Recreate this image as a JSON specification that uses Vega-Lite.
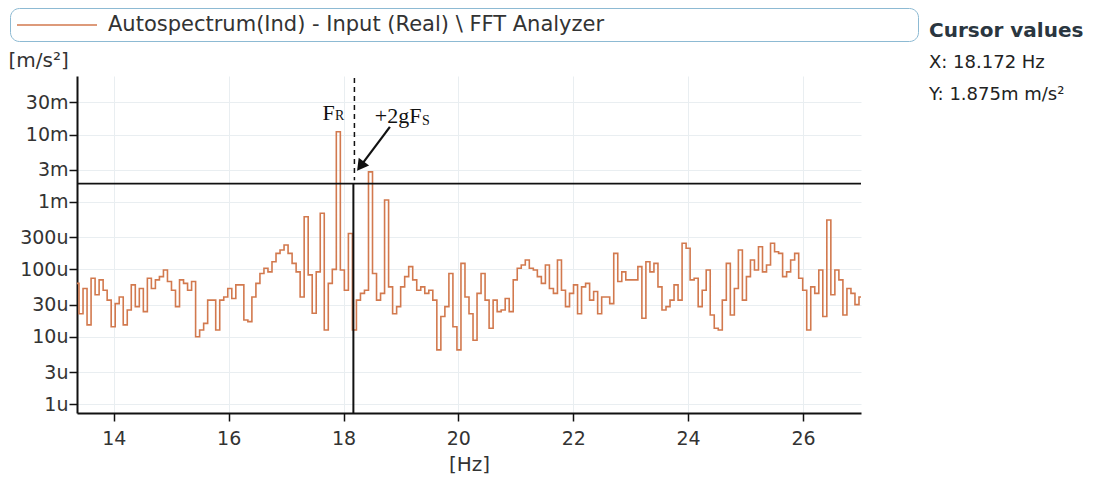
{
  "$schema": "https://vega.github.io/schema/vega-lite/v6.json",
  "width": 784,
  "height": 337,
  "autosize": {"type": "none"},
  "padding": {"left": 77, "top": 76, "right": 241, "bottom": 76},
  "background": "white",
  "config": {
    "view": {"stroke": null},
    "font": "DejaVu Sans",
    "legend": {
      "orient": "none",
      "legendX": -67,
      "legendY": -68,
      "symbolType": "M-1,0H7",
      "symbolSize": 400,
      "symbolStrokeWidth": 1.3,
      "labelFontSize": 21,
      "labelFont": "DejaVu Sans",
      "labelColor": "#333333",
      "labelOffset": 70,
      "labelLimit": 0,
      "padding": 6,
      "strokeColor": "#8dbad3",
      "cornerRadius": 9,
      "fillColor": "white",
      "titleOrient": "right",
      "titlePadding": 308
    }
  },
  "title": {
    "text": "Cursor values",
    "subtitle": ["X: 18.172 Hz", "Y: 1.875m m/s²"],
    "anchor": "start",
    "frame": "group",
    "orient": "top",
    "dx": 852,
    "offset": -96,
    "font": "DejaVu Sans",
    "fontSize": 20,
    "fontWeight": "bold",
    "color": "#2a3640",
    "subtitleFont": "DejaVu Sans",
    "subtitleFontSize": 18,
    "subtitleColor": "#222222",
    "subtitlePadding": 13,
    "subtitleLineHeight": 32
  },
  "datasets": {
    "spectrum": [
      {"hz": 13.36, "amp": 6.2e-5}, {"hz": 13.43, "amp": 2.2e-5}, {"hz": 13.50, "amp": 5.2e-5}, {"hz": 13.57, "amp": 1.5e-5},
      {"hz": 13.64, "amp": 7.4e-5}, {"hz": 13.71, "amp": 4.2e-5}, {"hz": 13.78, "amp": 7.0e-5}, {"hz": 13.85, "amp": 4.9e-5},
      {"hz": 13.92, "amp": 3.5e-5}, {"hz": 13.99, "amp": 1.41e-5}, {"hz": 14.06, "amp": 3.1e-5}, {"hz": 14.13, "amp": 3.9e-5},
      {"hz": 14.20, "amp": 1.5e-5}, {"hz": 14.27, "amp": 2.5e-5}, {"hz": 14.34, "amp": 5.9e-5}, {"hz": 14.41, "amp": 2.8e-5},
      {"hz": 14.48, "amp": 5.2e-5}, {"hz": 14.55, "amp": 2.36e-5}, {"hz": 14.62, "amp": 7.4e-5}, {"hz": 14.69, "amp": 5.2e-5},
      {"hz": 14.76, "amp": 7.0e-5}, {"hz": 14.83, "amp": 7.8e-5}, {"hz": 14.90, "amp": 9.8e-5}, {"hz": 14.97, "amp": 6.6e-5},
      {"hz": 15.04, "amp": 4.9e-5}, {"hz": 15.11, "amp": 2.8e-5}, {"hz": 15.18, "amp": 7.0e-5}, {"hz": 15.25, "amp": 6.2e-5},
      {"hz": 15.32, "amp": 4.9e-5}, {"hz": 15.39, "amp": 6.6e-5}, {"hz": 15.46, "amp": 1.0e-5}, {"hz": 15.53, "amp": 1.26e-5},
      {"hz": 15.60, "amp": 1.58e-5}, {"hz": 15.67, "amp": 3.5e-5}, {"hz": 15.74, "amp": 3.5e-5}, {"hz": 15.81, "amp": 1.26e-5},
      {"hz": 15.88, "amp": 3.5e-5}, {"hz": 15.95, "amp": 3.9e-5}, {"hz": 16.02, "amp": 5.2e-5}, {"hz": 16.09, "amp": 3.7e-5},
      {"hz": 16.16, "amp": 5.9e-5}, {"hz": 16.23, "amp": 5.9e-5}, {"hz": 16.30, "amp": 1.77e-5}, {"hz": 16.37, "amp": 1.68e-5},
      {"hz": 16.44, "amp": 3.9e-5}, {"hz": 16.51, "amp": 6.2e-5}, {"hz": 16.58, "amp": 8.7e-5}, {"hz": 16.65, "amp": 1.04e-4},
      {"hz": 16.72, "amp": 9.2e-5}, {"hz": 16.79, "amp": 1.3e-4}, {"hz": 16.86, "amp": 1.73e-4}, {"hz": 16.93, "amp": 1.94e-4},
      {"hz": 17.00, "amp": 2.3e-4}, {"hz": 17.07, "amp": 1.73e-4}, {"hz": 17.14, "amp": 1.23e-4}, {"hz": 17.21, "amp": 9.2e-5},
      {"hz": 17.28, "amp": 3.9e-5}, {"hz": 17.35, "amp": 6.05e-4}, {"hz": 17.42, "amp": 8.3e-5}, {"hz": 17.49, "amp": 2.23e-5},
      {"hz": 17.56, "amp": 9.2e-5}, {"hz": 17.63, "amp": 6.8e-4}, {"hz": 17.70, "amp": 1.26e-5}, {"hz": 17.77, "amp": 6.2e-5},
      {"hz": 17.84, "amp": 1.0e-4}, {"hz": 17.91, "amp": 1.1e-2}, {"hz": 17.98, "amp": 9.8e-5}, {"hz": 18.05, "amp": 4.9e-5},
      {"hz": 18.12, "amp": 3.4e-4}, {"hz": 18.19, "amp": 1.26e-5}, {"hz": 18.26, "amp": 3.5e-5}, {"hz": 18.33, "amp": 4.4e-5},
      {"hz": 18.40, "amp": 4.9e-5}, {"hz": 18.47, "amp": 2.8e-3}, {"hz": 18.54, "amp": 8.7e-5}, {"hz": 18.61, "amp": 3.5e-5},
      {"hz": 18.68, "amp": 4.4e-5}, {"hz": 18.75, "amp": 1.07e-3}, {"hz": 18.82, "amp": 5.5e-5}, {"hz": 18.89, "amp": 2.2e-5},
      {"hz": 18.96, "amp": 2.8e-5}, {"hz": 19.03, "amp": 5.5e-5}, {"hz": 19.10, "amp": 7.8e-5}, {"hz": 19.17, "amp": 1.1e-4},
      {"hz": 19.24, "amp": 7.0e-5}, {"hz": 19.31, "amp": 4.9e-5}, {"hz": 19.38, "amp": 5.5e-5}, {"hz": 19.45, "amp": 4.4e-5},
      {"hz": 19.52, "amp": 4.9e-5}, {"hz": 19.59, "amp": 3.5e-5}, {"hz": 19.66, "amp": 6.4e-6}, {"hz": 19.73, "amp": 2.0e-5},
      {"hz": 19.80, "amp": 2.8e-5}, {"hz": 19.87, "amp": 8.7e-5}, {"hz": 19.94, "amp": 1.41e-5}, {"hz": 20.01, "amp": 6.4e-6},
      {"hz": 20.08, "amp": 1.23e-4}, {"hz": 20.15, "amp": 3.9e-5}, {"hz": 20.22, "amp": 2.2e-5}, {"hz": 20.29, "amp": 8.9e-6},
      {"hz": 20.36, "amp": 4.4e-5}, {"hz": 20.43, "amp": 8.7e-5}, {"hz": 20.50, "amp": 3.5e-5}, {"hz": 20.57, "amp": 1.34e-5},
      {"hz": 20.64, "amp": 3.5e-5}, {"hz": 20.71, "amp": 2.36e-5}, {"hz": 20.78, "amp": 2.5e-5}, {"hz": 20.85, "amp": 3.7e-5},
      {"hz": 20.92, "amp": 2.36e-5}, {"hz": 20.99, "amp": 7.0e-5}, {"hz": 21.06, "amp": 1.04e-4}, {"hz": 21.13, "amp": 1.16e-4},
      {"hz": 21.20, "amp": 1.38e-4}, {"hz": 21.27, "amp": 1.04e-4}, {"hz": 21.34, "amp": 9.8e-5}, {"hz": 21.41, "amp": 7.8e-5},
      {"hz": 21.48, "amp": 6.2e-5}, {"hz": 21.55, "amp": 1.16e-4}, {"hz": 21.62, "amp": 5.2e-5}, {"hz": 21.69, "amp": 4.4e-5},
      {"hz": 21.76, "amp": 1.38e-4}, {"hz": 21.83, "amp": 4.9e-5}, {"hz": 21.90, "amp": 2.8e-5}, {"hz": 21.97, "amp": 4.4e-5},
      {"hz": 22.04, "amp": 5.9e-5}, {"hz": 22.11, "amp": 2.2e-5}, {"hz": 22.18, "amp": 5.5e-5}, {"hz": 22.25, "amp": 6.2e-5},
      {"hz": 22.32, "amp": 3.5e-5}, {"hz": 22.39, "amp": 4.7e-5}, {"hz": 22.46, "amp": 2.2e-5}, {"hz": 22.53, "amp": 3.9e-5},
      {"hz": 22.60, "amp": 3.9e-5}, {"hz": 22.67, "amp": 3.1e-5}, {"hz": 22.74, "amp": 1.73e-4}, {"hz": 22.81, "amp": 6.6e-5},
      {"hz": 22.88, "amp": 9.2e-5}, {"hz": 22.95, "amp": 7.0e-5}, {"hz": 23.02, "amp": 7.0e-5}, {"hz": 23.09, "amp": 7.0e-5},
      {"hz": 23.16, "amp": 1.1e-4}, {"hz": 23.23, "amp": 1.88e-5}, {"hz": 23.30, "amp": 1.3e-4}, {"hz": 23.37, "amp": 9.2e-5},
      {"hz": 23.44, "amp": 1.23e-4}, {"hz": 23.51, "amp": 5.5e-5}, {"hz": 23.58, "amp": 2.5e-5}, {"hz": 23.65, "amp": 2.8e-5},
      {"hz": 23.72, "amp": 3.5e-5}, {"hz": 23.79, "amp": 5.9e-5}, {"hz": 23.86, "amp": 3.5e-5}, {"hz": 23.93, "amp": 2.44e-4},
      {"hz": 24.00, "amp": 2.06e-4}, {"hz": 24.07, "amp": 7.0e-5}, {"hz": 24.14, "amp": 7.4e-5}, {"hz": 24.21, "amp": 2.8e-5},
      {"hz": 24.28, "amp": 4.9e-5}, {"hz": 24.35, "amp": 9.8e-5}, {"hz": 24.42, "amp": 2.1e-5}, {"hz": 24.49, "amp": 1.34e-5},
      {"hz": 24.56, "amp": 1.26e-5}, {"hz": 24.63, "amp": 3.5e-5}, {"hz": 24.70, "amp": 1.23e-4}, {"hz": 24.77, "amp": 2.1e-5},
      {"hz": 24.84, "amp": 5.2e-5}, {"hz": 24.91, "amp": 1.94e-4}, {"hz": 24.98, "amp": 3.5e-5}, {"hz": 25.05, "amp": 7.8e-5},
      {"hz": 25.12, "amp": 1.38e-4}, {"hz": 25.19, "amp": 9.8e-5}, {"hz": 25.26, "amp": 2.17e-4}, {"hz": 25.33, "amp": 9.2e-5},
      {"hz": 25.40, "amp": 1.16e-4}, {"hz": 25.47, "amp": 2.44e-4}, {"hz": 25.54, "amp": 1.83e-4}, {"hz": 25.61, "amp": 1.73e-4},
      {"hz": 25.68, "amp": 7.8e-5}, {"hz": 25.75, "amp": 9.2e-5}, {"hz": 25.82, "amp": 1.38e-4}, {"hz": 25.89, "amp": 1.73e-4},
      {"hz": 25.96, "amp": 7.4e-5}, {"hz": 26.03, "amp": 4.9e-5}, {"hz": 26.10, "amp": 1.26e-5}, {"hz": 26.17, "amp": 5.5e-5},
      {"hz": 26.24, "amp": 4.4e-5}, {"hz": 26.31, "amp": 9.8e-5}, {"hz": 26.38, "amp": 2.0e-5}, {"hz": 26.45, "amp": 5.4e-4},
      {"hz": 26.52, "amp": 4.2e-5}, {"hz": 26.59, "amp": 9.8e-5}, {"hz": 26.66, "amp": 7.0e-5}, {"hz": 26.73, "amp": 2.1e-5},
      {"hz": 26.80, "amp": 5.2e-5}, {"hz": 26.87, "amp": 4.4e-5}, {"hz": 26.94, "amp": 3.0e-5}, {"hz": 27.01, "amp": 3.9e-5}
    ],
    "cursor": [{"hz": 18.172, "amp": 0.001875}],
    "dash": [{"hz": 18.19, "amp": 0.069, "amp2": 0.0021}],
    "arrow": [{"hz": 18.808, "amp": 0.013, "hz2": 18.296, "amp2": 0.0034}],
    "head": [{"hz": 18.296, "amp": 0.0034}],
    "labels": [
      {"t": "F", "hz": 17.635, "amp": 0.0165, "sub": false},
      {"t": "R", "hz": 17.85, "amp": 0.0163, "sub": true},
      {"t": "+2gF", "hz": 18.546, "amp": 0.0147, "sub": false},
      {"t": "S", "hz": 19.365, "amp": 0.0140, "sub": true}
    ]
  },
  "layer": [
    {
      "data": {"name": "spectrum"},
      "mark": {"type": "line", "interpolate": "step", "strokeWidth": 1.6, "clip": true},
      "encoding": {
        "x": {
          "field": "hz", "type": "quantitative",
          "scale": {"domain": [13.36, 27.01], "nice": false, "zero": false},
          "axis": {
            "values": [14, 16, 18, 20, 22, 24, 26],
            "format": "d",
            "title": "[Hz]",
            "titleFontSize": 20, "titleFontWeight": "normal", "titleColor": "#333333", "titleFont": "DejaVu Sans",
            "titlePadding": 6,
            "labelFontSize": 19, "labelColor": "#333333", "labelFont": "DejaVu Sans",
            "labelPadding": 8,
            "tickSize": 8, "tickColor": "#111111", "tickWidth": 1.5,
            "domainColor": "#111111", "domainWidth": 2,
            "grid": true, "gridColor": "#e9eef1", "gridWidth": 1
          }
        },
        "y": {
          "field": "amp", "type": "quantitative",
          "scale": {"type": "log", "domain": [7.4e-7, 7.4e-2], "nice": false},
          "axis": {
            "values": [1e-6, 3e-6, 1e-5, 3e-5, 1e-4, 3e-4, 1e-3, 3e-3, 1e-2, 3e-2],
            "labelExpr": "replace(format(datum.value, '~s'), 'µ', 'u')",
            "title": "[m/s²]",
            "titleAngle": 0, "titleX": -69, "titleY": -16, "titleAlign": "left", "titleBaseline": "middle",
            "titleFontSize": 20, "titleFontWeight": "normal", "titleColor": "#333333", "titleFont": "DejaVu Sans",
            "labelFontSize": 19, "labelColor": "#333333", "labelFont": "DejaVu Sans",
            "labelPadding": 1,
            "tickSize": 8, "tickColor": "#111111", "tickWidth": 1.5,
            "domainColor": "#111111", "domainWidth": 2,
            "grid": true, "gridColor": "#e9eef1", "gridWidth": 1
          }
        },
        "color": {
          "datum": "Autospectrum(Ind) - Input (Real) \\ FFT Analyzer",
          "type": "nominal",
          "scale": {"range": ["#d2794e"]},
          "legend": {"title": " "}
        }
      }
    },
    {
      "data": {"name": "cursor"},
      "mark": {"type": "rule", "color": "#111111", "strokeWidth": 1.6},
      "encoding": {"y": {"field": "amp", "type": "quantitative"}}
    },
    {
      "data": {"name": "cursor"},
      "mark": {"type": "rule", "color": "#111111", "strokeWidth": 2},
      "encoding": {
        "x": {"field": "hz", "type": "quantitative"},
        "y": {"field": "amp", "type": "quantitative"},
        "y2": {"value": "height"}
      }
    },
    {
      "data": {"name": "dash"},
      "mark": {"type": "rule", "color": "#111111", "strokeWidth": 1.5, "strokeDash": [5, 4]},
      "encoding": {
        "x": {"field": "hz", "type": "quantitative"},
        "y": {"field": "amp", "type": "quantitative"},
        "y2": {"field": "amp2"}
      }
    },
    {
      "data": {"name": "arrow"},
      "mark": {"type": "rule", "color": "#111111", "strokeWidth": 2.2},
      "encoding": {
        "x": {"field": "hz", "type": "quantitative"},
        "y": {"field": "amp", "type": "quantitative"},
        "x2": {"field": "hz2"},
        "y2": {"field": "amp2"}
      }
    },
    {
      "data": {"name": "head"},
      "mark": {"type": "point", "shape": "triangle-up", "filled": true, "color": "#111111", "opacity": 1, "size": 170, "angle": 217},
      "encoding": {
        "x": {"field": "hz", "type": "quantitative"},
        "y": {"field": "amp", "type": "quantitative"}
      }
    },
    {
      "data": {"name": "labels"},
      "transform": [{"filter": "!datum.sub"}],
      "mark": {"type": "text", "font": "Liberation Serif", "fontSize": 22, "align": "left", "baseline": "alphabetic", "color": "#111111"},
      "encoding": {
        "x": {"field": "hz", "type": "quantitative"},
        "y": {"field": "amp", "type": "quantitative"},
        "text": {"field": "t"}
      }
    },
    {
      "data": {"name": "labels"},
      "transform": [{"filter": "datum.sub"}],
      "mark": {"type": "text", "font": "Liberation Serif", "fontSize": 14, "align": "left", "baseline": "alphabetic", "color": "#111111"},
      "encoding": {
        "x": {"field": "hz", "type": "quantitative"},
        "y": {"field": "amp", "type": "quantitative"},
        "text": {"field": "t"}
      }
    }
  ]
}
